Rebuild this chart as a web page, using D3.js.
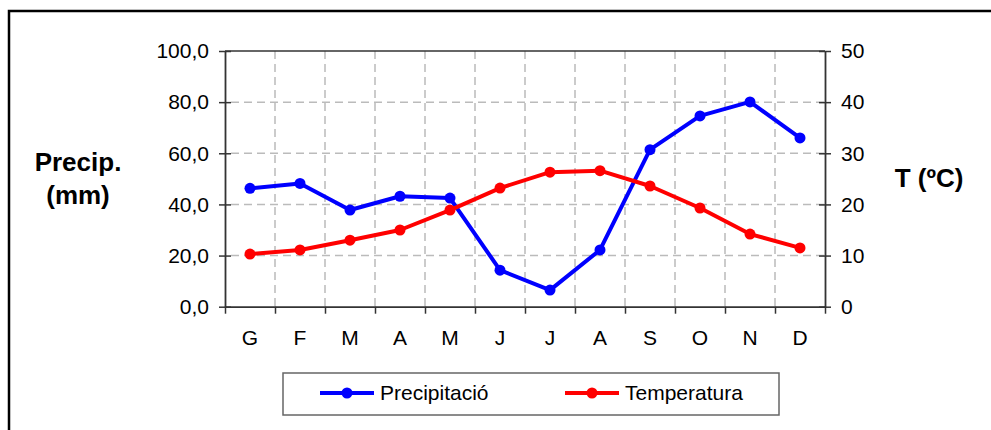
<html>
<head>
  <title>Climograma</title>
  <script src="https://d3js.org/d3.v7.min.js"></script>
  <style>
    body { margin: 0; background: #fff; }
    text { font-family: "Liberation Sans", Arial, sans-serif; }
  </style>
</head>
<body>
  <div id="chart"></div>
  <script type="text/javascript">

    // Data
    var months = ['G', 'F', 'M', 'A', 'M', 'J', 'J', 'A', 'S', 'O', 'N', 'D'];
    var precipitation = [46.3, 48.2, 37.8, 43.2, 42.5, 14.3, 6.5, 22.2, 61.4, 74.6, 80.1, 66.0];
    var temperature = [10.3, 11.1, 13.0, 15.0, 18.9, 23.2, 26.3, 26.6, 23.6, 19.3, 14.2, 11.5];
    var precipTicks = [0, 20, 40, 60, 80, 100];
    var tempTicks = [0, 10, 20, 30, 40, 50];

    // Plot area
    var plotLeft = 225, plotRight = 825, plotTop = 51, plotBottom = 306.7;
    var axisColor = '#333';

    var svg = d3.select('#chart')
                .append('svg')
                  .attr('width', 991)
                  .attr('height', 430);

    // outer frame
    svg.append('rect')
         .attr('x', 9).attr('y', 11)
         .attr('width', 1000).attr('height', 440)
         .style('fill', 'none')
         .style('stroke', '#000')
         .style('stroke-width', 2.5);

    var x = d3.scaleBand().domain(d3.range(months.length)).range([plotLeft, plotRight]).padding(0);
    var xEdge = d3.scaleLinear().domain([0, months.length]).range([plotLeft, plotRight]);
    var yP = d3.scaleLinear().domain([0, 100]).range([plotBottom, plotTop]);
    var yT = d3.scaleLinear().domain([0, 50]).range([plotBottom, plotTop]);

    var cx = function(i) { return x(i) + x.bandwidth() / 2; };

    // dashed grid
    svg.append('g').selectAll('line')
         .data(precipTicks.slice(1, -1))
         .enter().append('line')
           .attr('x1', plotLeft + 6).attr('x2', plotRight)
           .attr('y1', function(d) { return yP(d); })
           .attr('y2', function(d) { return yP(d); })
           .style('stroke', '#bbb').style('stroke-width', 1.5)
           .style('stroke-dasharray', '8,5');

    svg.append('g').selectAll('line')
         .data(d3.range(1, months.length))
         .enter().append('line')
           .attr('x1', function(d) { return xEdge(d); })
           .attr('x2', function(d) { return xEdge(d); })
           .attr('y1', plotTop).attr('y2', plotBottom)
           .style('stroke', '#bbb').style('stroke-width', 1.5)
           .style('stroke-dasharray', '8,5');

    // plot border top
    svg.append('line')
         .attr('x1', plotLeft).attr('x2', plotRight)
         .attr('y1', plotTop).attr('y2', plotTop)
         .style('stroke', axisColor).style('stroke-width', 1.5);

    var fmtP = function(d) { return d3.format('.1f')(d).replace('.', ','); };

    // left axis
    var yAxisL = d3.axisLeft(yP).tickValues(precipTicks).tickFormat(fmtP).tickSize(6).tickSizeOuter(0).tickPadding(10);
    var gL = svg.append('g')
                  .attr('transform', 'translate(' + plotLeft + ',0)')
                  .call(yAxisL);

    // right axis
    var yAxisR = d3.axisRight(yT).tickValues(tempTicks).tickSize(6).tickSizeOuter(0).tickPadding(10);
    var gR = svg.append('g')
                  .attr('transform', 'translate(' + plotRight + ',0)')
                  .call(yAxisR);

    // bottom axis: ticks at month boundaries, labels centred
    var xAxis = d3.axisBottom(xEdge).tickValues(d3.range(0, months.length + 1)).tickSize(7).tickSizeOuter(0).tickFormat('');
    var gB = svg.append('g')
                  .attr('transform', 'translate(0,' + plotBottom + ')')
                  .call(xAxis);

    [gL, gR, gB].forEach(function(g) {
      g.select('.domain').style('stroke', axisColor).style('stroke-width', 1.8);
      g.selectAll('.tick line').style('stroke', axisColor).style('stroke-width', 1.5);
      g.selectAll('text').style('font-size', '21px').style('fill', '#000')
        .style('font-family', '"Liberation Sans", Arial, sans-serif');
    });
    gL.selectAll('.tick line').attr('x2', -6).attr('x1', 6);
    gR.selectAll('.tick line').attr('x2', 6).attr('x1', -6);

    svg.append('g').selectAll('text')
         .data(months)
         .enter().append('text')
           .attr('x', function(d, i) { return cx(i); })
           .attr('y', 345)
           .attr('text-anchor', 'middle')
           .style('font-size', '21px')
           .text(function(d) { return d; });

    // axis titles
    var titleL = svg.append('text')
                      .attr('text-anchor', 'middle')
                      .style('font-size', '26px')
                      .style('font-weight', 'bold');
    titleL.append('tspan').attr('x', 78).attr('y', 171).text('Precip.');
    titleL.append('tspan').attr('x', 78).attr('y', 204).text('(mm)');

    svg.append('text')
         .attr('x', 929).attr('y', 187)
         .attr('text-anchor', 'middle')
         .style('font-size', '26px')
         .style('font-weight', 'bold')
         .text('T (ºC)');

    // series
    var series = [
      {name: 'Precipitació', values: precipitation, y: yP, color: '#0000FF'},
      {name: 'Temperatura', values: temperature, y: yT, color: '#FF0000'}
    ];

    series.forEach(function(s) {
      var line = d3.line()
                   .x(function(d, i) { return cx(i); })
                   .y(function(d) { return s.y(d); });
      svg.append('path')
           .attr('d', line(s.values))
           .style('fill', 'none')
           .style('stroke', s.color)
           .style('stroke-width', 4)
           .style('stroke-linejoin', 'round');
      svg.append('g').selectAll('circle')
           .data(s.values)
           .enter().append('circle')
             .attr('cx', function(d, i) { return cx(i); })
             .attr('cy', function(d) { return s.y(d); })
             .attr('r', 5.5)
             .style('fill', s.color);
    });

    // legend
    svg.append('rect')
         .attr('x', 283).attr('y', 373)
         .attr('width', 496).attr('height', 42)
         .style('fill', '#fff')
         .style('stroke', '#666')
         .style('stroke-width', 1.5);

    var legendX = [320, 565];
    series.forEach(function(s, i) {
      var lx = legendX[i];
      svg.append('line')
           .attr('x1', lx).attr('x2', lx + 54)
           .attr('y1', 393).attr('y2', 393)
           .style('stroke', s.color).style('stroke-width', 4);
      svg.append('circle')
           .attr('cx', lx + 27).attr('cy', 393).attr('r', 5.5)
           .style('fill', s.color);
      svg.append('text')
           .attr('x', lx + 60).attr('y', 400)
           .style('font-size', '21px')
           .text(s.name);
    });

  </script>
</body>
</html>
